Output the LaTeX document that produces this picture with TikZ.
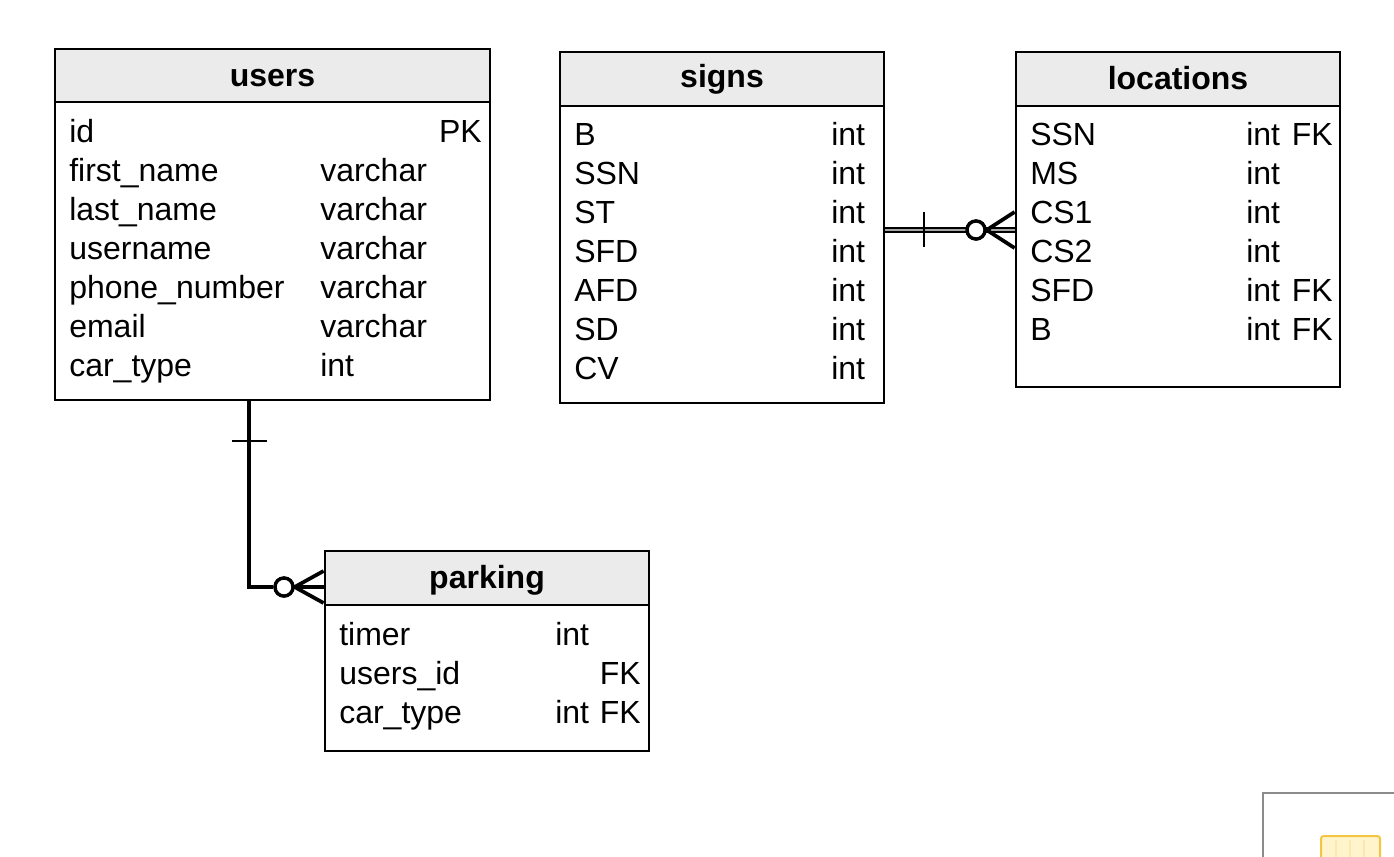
\documentclass[tikz,border=0pt]{standalone}
\usepackage{fontspec}
\setmainfont{Liberation Sans}
\usepackage{xcolor}
\usepackage{tikz}
\usetikzlibrary{positioning,fit}
\definecolor{ink}       {HTML}{000000}
\definecolor{headgray}  {HTML}{EBEBEB}
\definecolor{framegray} {HTML}{8C8C8C}
\definecolor{noteamber} {HTML}{F4C542}
\definecolor{notecream} {HTML}{FFF4CC}
\newcommand{\tblfont}{\fontsize{24}{28}\selectfont}

\tikzset{
  tblbox/.style={draw=ink,fill=white,line width=2.15pt,inner sep=0pt},
  hdrbox/.style={draw=ink,fill=headgray,line width=2.15pt,inner sep=0pt},
  hdrtext/.style={font=\tblfont\bfseries,text=ink,inner sep=0pt},
  fld/.style={font=\tblfont,text=ink,inner sep=0pt,anchor=base west},
  keyfld/.style={font=\tblfont,text=ink,inner sep=0pt,anchor=base east},
  rel/.style={draw=ink,line width=2.4pt},
  relbar/.style={draw=ink,line width=2.0pt},
  prong/.style={draw=ink,line width=2.8pt},
  optring/.style={circle,draw=ink,fill=white,line width=2.5pt,inner sep=0pt,minimum size=13.5pt}
}

\begin{document}
\begin{tikzpicture}[x=0.75pt,y=-0.75pt]
\useasboundingbox (0,0) rectangle (1394,856);
\fill[white] (0,0) rectangle (1394,856);
% tables
\node[tblbox,fit={(55,49) (490,400)}] (users) {};
\node[hdrbox,fit={(55,49) (490,102)}] (users-h) {};
\node[hdrtext,yshift=-2pt] (users-n) at (users-h.center) {users};
\node[tblbox,fit={(560,52) (884,403)}] (signs) {};
\node[hdrbox,fit={(560,52) (884,106)}] (signs-h) {};
\node[hdrtext] (signs-n) at (signs-h.center) {signs};
\node[tblbox,fit={(1016,52) (1340,387)}] (locations) {};
\node[hdrbox,fit={(1016,52) (1340,106)}] (locations-h) {};
\node[hdrtext,yshift=1pt] (locations-n) at (locations-h.center) {locations};
\node[tblbox,fit={(325,551) (649,751)}] (parking) {};
\node[hdrbox,fit={(325,551) (649,605)}] (parking-h) {};
\node[hdrtext,yshift=-1.5pt] (parking-n) at (parking-h.center) {parking};
% users fields
\node[fld] (u-f0) at (69,142) {id};
\node[keyfld] (u-k0) at (482,142) {PK};
\node[fld] (u-f1) at (69,181) {first\_name};
\node[fld] (u-t1) at (320,181) {varchar};
\node[fld] (u-f2) at (69,220) {last\_name};
\node[fld] (u-t2) at (320,220) {varchar};
\node[fld] (u-f3) at (69,259) {username};
\node[fld] (u-t3) at (320,259) {varchar};
\node[fld] (u-f4) at (69,298) {phone\_number};
\node[fld] (u-t4) at (320,298) {varchar};
\node[fld] (u-f5) at (69,337) {email};
\node[fld] (u-t5) at (320,337) {varchar};
\node[fld] (u-f6) at (69,376) {car\_type};
\node[fld] (u-t6) at (320,376) {int};
% signs fields
\node[fld] (s-f0) at (574,145) {B};
\node[fld] (s-t0) at (831,145) {int};
\node[fld] (s-f1) at (574,184) {SSN};
\node[fld] (s-t1) at (831,184) {int};
\node[fld] (s-f2) at (574,223) {ST};
\node[fld] (s-t2) at (831,223) {int};
\node[fld] (s-f3) at (574,262) {SFD};
\node[fld] (s-t3) at (831,262) {int};
\node[fld] (s-f4) at (574,301) {AFD};
\node[fld] (s-t4) at (831,301) {int};
\node[fld] (s-f5) at (574,340) {SD};
\node[fld] (s-t5) at (831,340) {int};
\node[fld] (s-f6) at (574,379) {CV};
\node[fld] (s-t6) at (831,379) {int};
% locations fields
\node[fld] (l-f0) at (1030,145) {SSN};
\node[fld] (l-t0) at (1246,145) {int};
\node[keyfld] (l-k0) at (1333,145) {FK};
\node[fld] (l-f1) at (1030,184) {MS};
\node[fld] (l-t1) at (1246,184) {int};
\node[fld] (l-f2) at (1030,223) {CS1};
\node[fld] (l-t2) at (1246,223) {int};
\node[fld] (l-f3) at (1030,262) {CS2};
\node[fld] (l-t3) at (1246,262) {int};
\node[fld] (l-f4) at (1030,301) {SFD};
\node[fld] (l-t4) at (1246,301) {int};
\node[keyfld] (l-k4) at (1333,301) {FK};
\node[fld] (l-f5) at (1030,340) {B};
\node[fld] (l-t5) at (1246,340) {int};
\node[keyfld] (l-k5) at (1333,340) {FK};
% parking fields
\node[fld] (p-f0) at (339,645) {timer};
\node[fld] (p-t0) at (555,645) {int};
\node[fld] (p-f1) at (339,684) {users\_id};
\node[keyfld] (p-k1) at (641,684) {FK};
\node[fld] (p-f2) at (339,723) {car\_type};
\node[fld] (p-t2) at (555,723) {int};
\node[keyfld] (p-k2) at (641,723) {FK};
% users -- parking (one to zero-or-many)
\coordinate (up-x) at (249,0);
\coordinate (up-bar) at (249,441);
\node[optring] (up-ring) at (284,587) {};
\draw[rel] (users.south -| up-x) |- (up-ring.west);
\draw[relbar] (up-bar) +(-17,0) -- +(18,0);
\draw[prong] (parking.west |- 0,571) -- (up-ring.east) -- (parking.west |- 0,603);
\draw[prong] (up-ring.east) -- (parking.west |- up-ring);
\node[optring] at (up-ring) {};
% signs -- locations (one to zero-or-many)
\coordinate (sl-y) at (0,230);
\coordinate (sl-bar) at (924,230);
\node[optring] (sl-ring) at (976,230) {};
\draw[ink,line width=1.5pt,double=gray!70,double distance=1pt] (signs.east |- sl-y) -- (locations.west |- sl-y);
\draw[relbar] (sl-bar) +(0,-18) -- +(0,17);
\draw[prong] (locations.west |- 0,212) -- (sl-ring.east) -- (locations.west |- 0,248);
\node[optring] at (sl-ring) {};
% corner of a window, bottom right
\draw[framegray,line width=1.5pt,fill=white] (1263,793) rectangle (1410,880);
\draw[noteamber,line width=1.5pt,fill=notecream,rounded corners=2pt] (1321,836) rectangle (1380,880);
\draw[noteamber!40,line width=1pt] (1336,840) -- (1336,880) (1350,840) -- (1350,880) (1364,840) -- (1364,880);
\end{tikzpicture}
\end{document}
